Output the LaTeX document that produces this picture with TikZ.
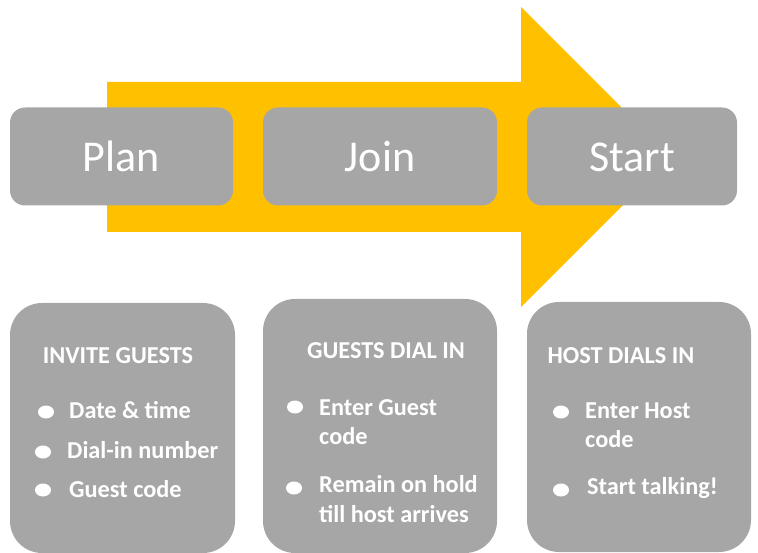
\documentclass[tikz,border=0pt]{standalone}
\usepackage{fontspec}
\setmainfont{Carlito}
\usetikzlibrary{shapes.geometric}
\definecolor{boxgray}{HTML}{A6A6A6}
\definecolor{arrowgold}{HTML}{FFC000}

\begin{document}
\begin{tikzpicture}[x=1pt, y=-1pt,
  stepbox/.style = {shape=rectangle, rounded corners=15pt,
    fill=boxgray, text=white, inner sep=0pt,
    minimum height=98pt, text height=30pt, text depth=0pt,
    font=\fontsize{44}{44}\selectfont},
  listbox/.style = {shape=rectangle, rounded corners=32pt,
    fill=boxgray, inner sep=0pt},
  heading/.style = {text=white, inner sep=0pt, anchor=base,
    font=\bfseries\fontsize{24.3}{28}\selectfont},
  item/.style = {text=white, inner sep=0pt, anchor=base west,
    font=\bfseries\fontsize{24.3}{28}\selectfont},
  dot/.style = {shape=ellipse, fill=white, inner sep=0pt,
    minimum width=16pt, minimum height=13pt}]
  \useasboundingbox (0,0) rectangle (758,553);

  % the big arrow behind the three steps
  \fill[arrowgold] (107,82) -- (521,82) -- (521,7) -- (671,157)
    -- (521,307) -- (521,232) -- (107,232) -- cycle;

  % steps
  \node[stepbox, minimum width=223pt] (plan)  at (121.5,156.5) {Plan};
  \node[stepbox, minimum width=234pt] (join)  at (380,156.5)   {Join};
  \node[stepbox, minimum width=210pt] (start) at (632,156.5)   {Start};

  % detail boxes
  \node[listbox, minimum width=225pt, minimum height=250pt] (invite) at (122.5,428) {};
  \node[listbox, minimum width=234pt, minimum height=254pt] (guests) at (380,426)   {};
  \node[listbox, minimum width=224pt, minimum height=250pt] (host)   at (639,427)   {};

  % plan
  \node[heading] (invite head) at (118,363) {INVITE GUESTS};
  \node[dot] (invite dot1) at (46,412) {};
  \node[item] (invite item1) at (69,418) {Date \& time};
  \node[dot] (invite dot2) at (43,452) {};
  \node[item] (invite item2) at (67,458) {Dial-in number};
  \node[dot] (invite dot3) at (43,490) {};
  \node[item] (invite item3) at (69,497) {Guest code};

  % join
  \node[heading] (guests head) at (386,359) {GUESTS DIAL IN};
  \node[dot] (guests dot1) at (295,407) {};
  \node[item] (guests item1) at (319,415) {Enter Guest};
  \node[item] (guests item1b) at (319,444) {code};
  \node[dot] (guests dot2) at (294,488) {};
  \node[item] (guests item2) at (319,492) {Remain on hold};
  \node[item] (guests item2b) at (319,522) {till host arrives};

  % start
  \node[heading] (host head) at (621,363) {HOST DIALS IN};
  \node[dot] (host dot1) at (561,412) {};
  \node[item] (host item1) at (585,418) {Enter Host};
  \node[item] (host item1b) at (585,447) {code};
  \node[dot] (host dot2) at (561,490) {};
  \node[item] (host item2) at (587,494) {Start talking!};
\end{tikzpicture}
\end{document}
